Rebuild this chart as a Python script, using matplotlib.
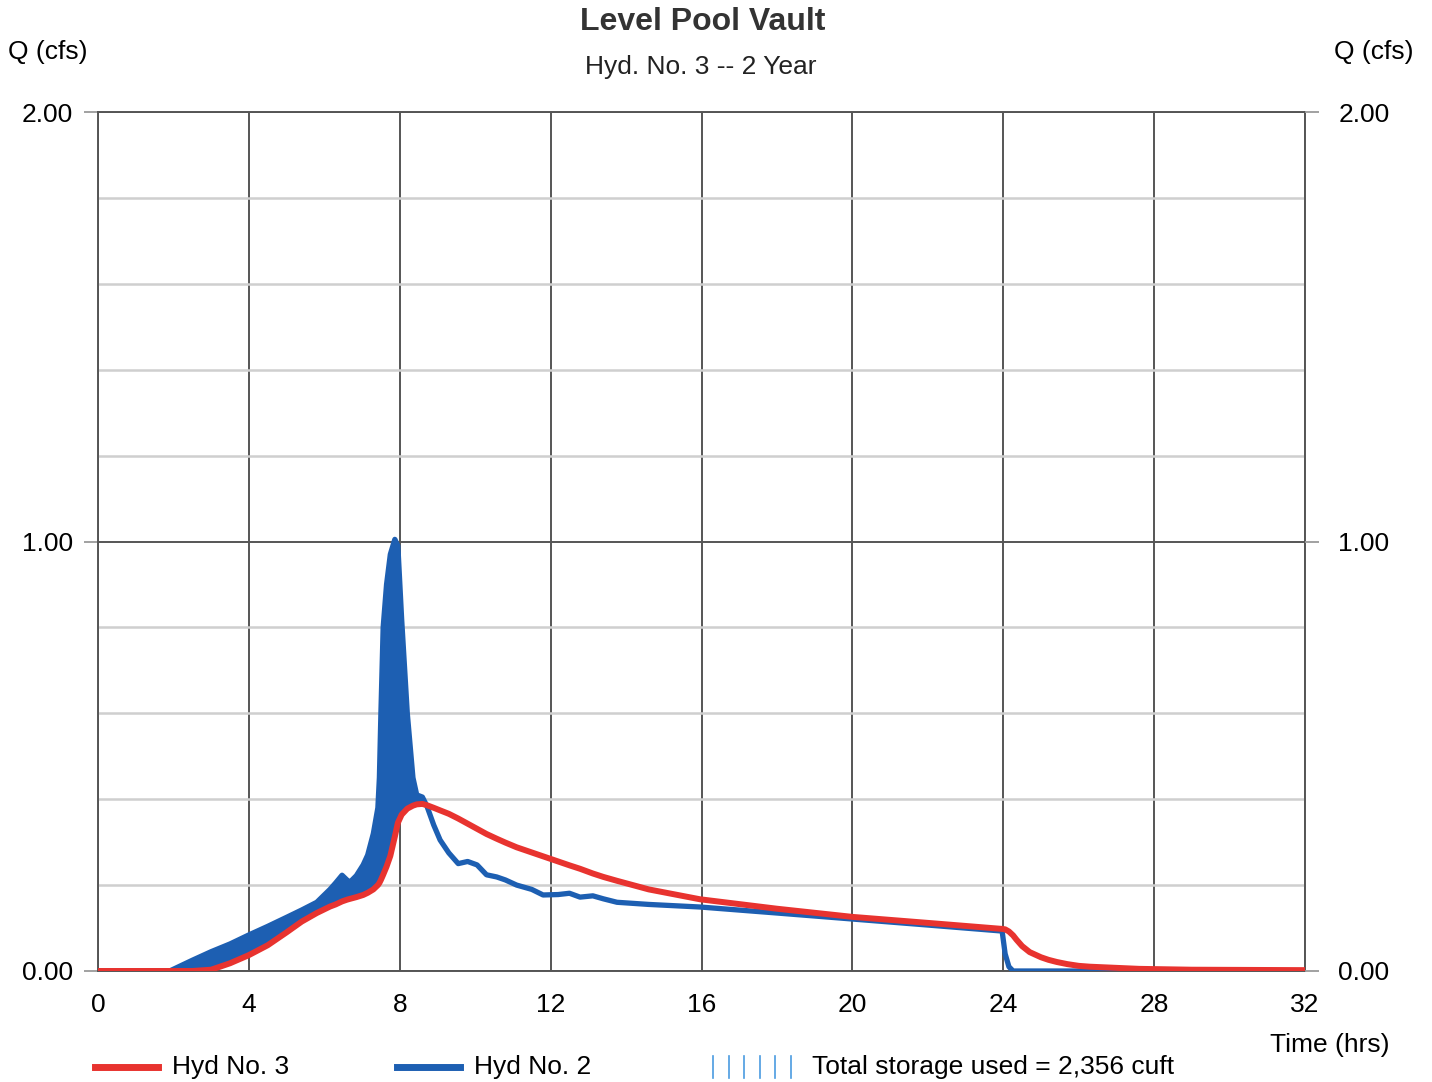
import numpy as np
import matplotlib
matplotlib.use("Agg")
import matplotlib.pyplot as plt
from matplotlib.lines import Line2D

plt.rcParams['font.family'] = ['Liberation Sans', 'DejaVu Sans']

# time (hrs) shared by both hydrographs
czas = np.array([0, 1, 1.9, 2.5, 3.0, 3.5, 4.0, 4.5, 5.0, 5.4, 5.8, 6.15, 6.3, 6.47, 6.6,
                 6.68, 6.85, 7.03, 7.15, 7.3, 7.42, 7.46, 7.5, 7.56, 7.65, 7.75, 7.87, 7.95,
                 8.05, 8.2, 8.35, 8.45, 8.6, 8.72, 8.9, 9.07, 9.3, 9.55, 9.8, 10.05, 10.3,
                 10.57, 10.8, 11.1, 11.5, 11.8, 12.2, 12.5, 12.78, 13.12, 13.4, 13.76, 14.6,
                 15.96, 18, 20, 22, 23.97, 24.05, 24.15, 24.26, 24.35, 24.5, 24.7, 25, 25.2,
                 25.42, 25.7, 26.0, 26.3, 27.6, 29, 32])

# Hyd No. 2 (inflow)
hyd2 = np.array([0, 0, 0, 0.025, 0.045, 0.063, 0.084, 0.104, 0.125, 0.142, 0.16, 0.19, 0.205,
                 0.223, 0.212, 0.207, 0.222, 0.247, 0.27, 0.32, 0.38, 0.45, 0.6, 0.8, 0.9, 0.97,
                 1.005, 0.99, 0.82, 0.6, 0.45, 0.41, 0.405, 0.384, 0.34, 0.305, 0.275, 0.25,
                 0.255, 0.247, 0.224, 0.219, 0.212, 0.2, 0.19, 0.177, 0.178, 0.181, 0.172,
                 0.175, 0.168, 0.16, 0.155, 0.149, 0.135, 0.121, 0.107, 0.093, 0.04, 0.01,
                 0.0, 0, 0, 0, 0, 0, 0, 0, 0, 0, 0, 0, 0])

# Hyd No. 3 (outflow)
hyd3 = np.array([0, 0, 0, 0, 0.003, 0.018, 0.037, 0.06, 0.09, 0.115, 0.135, 0.15, 0.155,
                 0.162, 0.166, 0.168, 0.172, 0.177, 0.182, 0.19, 0.2, 0.205, 0.212, 0.224,
                 0.243, 0.268, 0.313, 0.345, 0.364, 0.378, 0.385, 0.388, 0.389, 0.386, 0.38,
                 0.374, 0.366, 0.355, 0.343, 0.331, 0.319, 0.308, 0.299, 0.288, 0.276, 0.267,
                 0.255, 0.246, 0.238, 0.227, 0.219, 0.21, 0.19, 0.167, 0.145, 0.126, 0.112,
                 0.098, 0.097, 0.092, 0.083, 0.073, 0.058, 0.044, 0.032, 0.026, 0.021, 0.016,
                 0.012, 0.01, 0.005, 0.003, 0.002])

y_ticks = [0, 1, 2]
y_labels = ['0.00', '1.00', '2.00']
x_ticks = [0, 4, 8, 12, 16, 20, 24, 28, 32]

czerwony = '#e8332f'
niebieski = '#1d5fb2'
rozmiar = 19

fig = plt.figure(figsize=(14.32, 10.82), dpi=100)
ax = fig.add_axes([98 / 1432, 1 - 971 / 1082, (1305 - 98) / 1432, (971 - 112) / 1082])

ax.fill_between(czas, hyd3, hyd2, where=hyd2 >= hyd3, interpolate=True,
                color=niebieski, linewidth=0, zorder=2)
ax.plot(czas, hyd2, color=niebieski, lw=3.8, zorder=3, solid_joinstyle='round')
ax.plot(czas, hyd3, color=czerwony, lw=4.3, zorder=4, solid_joinstyle='round')

ax.set_xlim(0, 32)
ax.set_ylim(0, 2)
ax.set_xticks(x_ticks)
ax.set_xticklabels([str(v) for v in x_ticks])
ax.set_yticks(y_ticks)
ax.set_yticklabels(y_labels)
ax.set_yticks(np.arange(0.2, 2.0, 0.2), minor=True)

ax.grid(True, which='major', axis='both', color='#555555', lw=1.4, zorder=1)
ax.grid(True, which='minor', axis='y', color='#cfcfcf', lw=1.8, zorder=1)
ax.set_axisbelow(True)
for s in ax.spines.values():
    s.set_color('#555555')
    s.set_linewidth(1.4)

ax.tick_params(axis='y', which='major', length=10, width=1.3, color='#9a9a9a',
               labelsize=rozmiar, pad=8)
ax.tick_params(axis='y', which='minor', length=0)
ax.tick_params(axis='x', length=0, labelsize=rozmiar, pad=16)

# right hand axis with the same scale
ax2 = ax.twinx()
ax2.set_ylim(0, 2)
ax2.set_yticks(y_ticks)
ax2.set_yticklabels(y_labels)
ax2.tick_params(axis='y', length=10, width=1.3, color='#9a9a9a', labelsize=rozmiar, pad=14)
for s in ax2.spines.values():
    s.set_visible(False)

fig.text(703 / 1432, 1 - 22 / 1082, 'Level Pool Vault', ha='center', va='center',
         fontsize=23, fontweight='bold', color='#333333')
fig.text(701 / 1432, 1 - 67 / 1082, 'Hyd. No. 3 -- 2 Year', ha='center', va='center',
         fontsize=rozmiar, color='#222222')
fig.text(8 / 1432, 1 - 52 / 1082, 'Q (cfs)', ha='left', va='center', fontsize=rozmiar)
fig.text(1414 / 1432, 1 - 52 / 1082, 'Q (cfs)', ha='right', va='center', fontsize=rozmiar)
fig.text(1390 / 1432, 1 - 1045 / 1082, 'Time (hrs)', ha='right', va='center', fontsize=rozmiar)

# legend drawn below the axes
yl = 1 - 1067 / 1082
fig.add_artist(Line2D([95 / 1432, 158 / 1432], [yl, yl], color=czerwony, lw=5))
fig.text(172 / 1432, yl, 'Hyd No. 3', ha='left', va='center', fontsize=rozmiar)
fig.add_artist(Line2D([397 / 1432, 460 / 1432], [yl, yl], color=niebieski, lw=5))
fig.text(474 / 1432, yl, 'Hyd No. 2', ha='left', va='center', fontsize=rozmiar)
for xp in np.linspace(713, 791, 6):
    fig.add_artist(Line2D([xp / 1432, xp / 1432], [1 - 1078 / 1082, 1 - 1056 / 1082],
                          color='#4a9be0', lw=1.2))
fig.text(812 / 1432, yl, 'Total storage used = 2,356 cuft', ha='left', va='center',
         fontsize=rozmiar)

fig.savefig('out.png', dpi=100)
